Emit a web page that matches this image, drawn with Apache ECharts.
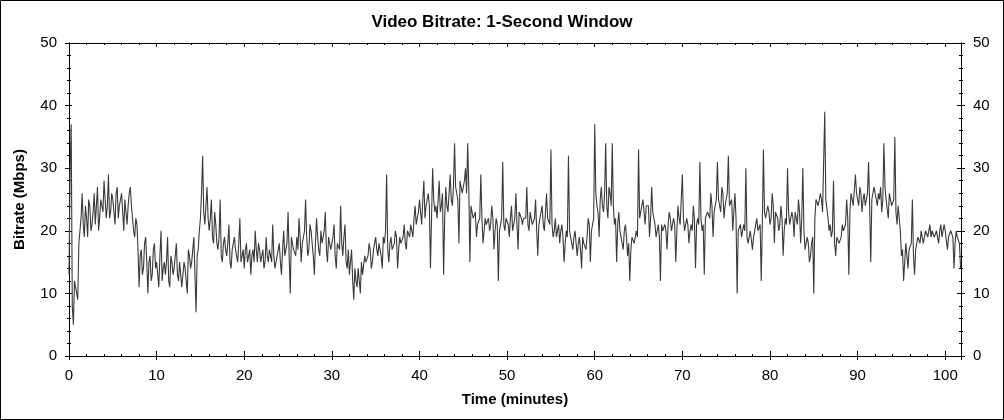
<!DOCTYPE html>
<html>
<head>
<meta charset="utf-8">
<script src="https://cdn.jsdelivr.net/npm/echarts@6/dist/echarts.min.js"></script>
<style>
html,body{margin:0;padding:0;background:#fff;}
#chart{width:1004px;height:420px;}
</style>
</head>
<body>
<div id="chart"></div>
<script>
// ---- data ----
const titleText = 'Video Bitrate: 1-Second Window';
const xName = 'Time (minutes)';
const yName = 'Bitrate (Mbps)';
const xTicks = [0, 10, 20, 30, 40, 50, 60, 70, 80, 90, 100];
const yTicks = [0, 10, 20, 30, 40, 50];
const sampleStepMin = 0.25;   // readings every 15 s (plus in-between readings below)
// bitrate in Mbps at minute m + 0, .25, .5, .75 ; minute 0 .. 101
const bitrate = [
 13,37,5,11,   9,20,26,19,   22,25,20,23,  21,27,22,24,  28,22,29,23,
 25,21,27,24,  26,20,25,24,  27,22,19,21,  11,17,14,19,  10,16,13,18,
 15,11,20,14,  13,19,11,15,  14,18,12,15,  11,14,10,16,  15,19,7,17,
 22,32,21,27,  20,25,18,21,  17,25,15,19,  16,21,14,18,  17,15,22,16,
 14,18,16,13,  17,20,15,17,  16,14,19,15,  17,21,14,16,  18,13,20,16,
 23,10,18,17,  19,22,15,18,  25,16,21,18,  13,22,17,20,  18,23,15,19,
 17,21,14,18,  24,16,21,14,  13,17,9,12,   14,10,13,16,  15,18,14,17,
 19,16,18,14,  18,29,15,19,  17,20,14,19,  18,21,17,20,  21,19,24,22,
 25,21,28,24,  26,14,30,23,  22,28,24,13,  27,23,29,24,  34,26,18,27,
 26,30,34,15,  24,22,19,21,  29,18,22,21,  20,24,17,22,  12,21,31,20,
 22,19,24,21,  26,17,23,21,  22,27,20,23,  21,25,16,22,  24,20,26,22,
 33,19,22,20,  18,21,15,20,  32,19,17,20,  16,19,14,18,  17,22,15,20,
 37,24,19,27,  23,34,22,26,  34,21,15,23,  19,17,21,16,  12,19,18,20,
 33,23,25,21,  24,19,27,23,  19,21,12,20,  21,17,23,20,  22,15,24,21,
 29,20,22,18,  21,24,14,22,  31,20,13,22,  23,26,19,24,  31,24,27,22,
 25,32,24,20,  26,10,20,19,  21,30,18,20,  17,19,22,20,  12,33,22,24,
 21,26,18,23,  20,24,16,22,  30,21,23,19,  22,25,18,30,  17,19,15,18,
 10,25,24,26,  23,39,25,20,  19,28,16,19,  18,21,20,25,  13,26,24,29,
 25,27,23,26,  24,31,15,26,  27,24,25,23,  34,25,22,26,  24,35,21,22,
 16,12,18,14,  17,25,13,18,  19,20,18,20,  19,21,20,19,  20,18,21,19,
 20,17,19,20,  14,20,19,14
];
// in-between readings at minute m + .125, .375, .625, .875 ; minute 0 .. 101
const bitrateMid = [
 30,8,12,10,   18,22,21,24,  19,24,21,26,  24,20,25,23,  25,24,22,26,
 23,26,22,25,  23,25,21,26,  24,20,22,17,  16,13,18,15,  15,12,17,14,
 13,16,12,15,  15,12,16,13,  16,13,15,11,  15,12,17,14,  17,13,16,20,
 26,23,24,22,  22,19,23,18,  19,16,18,17,  18,15,17,19,  16,18,15,17,
 17,15,17,16,  15,17,18,15,  17,15,16,17,  15,16,14,17,  15,17,16,18,
 16,19,17,16,  17,19,18,20,  19,17,20,16,  18,19,16,18,  20,17,19,17,
 19,16,18,17,  18,19,15,17,  15,12,14,11,  12,15,13,15,  16,17,15,18,
 17,18,16,19,  20,17,18,17,  18,19,17,18,  19,18,20,19,  20,22,21,23,
 23,25,22,25,  24,22,25,24,  25,23,26,22,  24,26,25,27,  27,25,28,26,
 28,26,27,24,  22,23,21,22,  22,20,21,22,  21,22,20,21,  20,22,21,22,
 21,22,20,22,  21,23,22,22,  22,21,23,21,  22,20,21,23,  21,23,22,21,
 21,20,19,21,  20,19,18,19,  20,18,19,18,  18,17,19,18,  19,21,20,22,
 26,23,25,24,  26,24,27,24,  24,22,21,20,  18,20,19,18,  17,19,18,19,
 22,24,23,24,  24,22,23,21,  20,19,21,20,  20,21,22,21,  21,20,22,21,
 22,20,21,20,  20,22,21,21,  22,21,22,23,  22,24,23,25,  25,23,26,24,
 26,24,25,23,  22,20,21,19,  20,19,18,20,  19,21,20,21,  21,23,22,23,
 22,24,23,22,  21,22,20,21,  23,21,22,23,  21,23,22,20,  17,18,16,19,
 22,25,24,25,  23,25,22,21,  20,18,19,18,  19,20,21,22,  23,25,24,26,
 24,26,25,24,  26,24,25,27,  25,26,27,25,  27,25,26,24,  25,23,24,20,
 17,15,16,17,  18,16,17,19,  18,20,19,20,  20,19,20,19,  19,20,19,21,
 20,19,20,19,  18,19,18
];
const xMax = 101.8;

// ---- build series points (merge the two reading sets in time order) ----
const points = [];
bitrate.forEach((v, i) => {
  points.push([i * sampleStepMin, v]);
  if (i < bitrateMid.length) points.push([i * sampleStepMin + sampleStepMin / 2, bitrateMid[i]]);
});

const FONT = 'Liberation Sans, Arial, sans-serif';
const tickLabel = {fontFamily: FONT, fontSize: 15, color: '#000'};

function xAx(extra) {
  return Object.assign({
    type: 'value', min: 0, max: xMax, interval: 10,
    axisLine: {show: true, onZero: false, lineStyle: {color: '#000', width: 1}},
    axisTick: {show: true, length: 4, lineStyle: {color: '#000'}},
    minorTick: {show: true, splitNumber: 5, length: 2, lineStyle: {color: '#000'}},
    splitLine: {show: false}, minorSplitLine: {show: false},
    axisLabel: {show: false}
  }, extra);
}
function yAx(extra) {
  return Object.assign({
    type: 'value', min: 0, max: 50, interval: 10,
    axisLine: {show: true, onZero: false, lineStyle: {color: '#000', width: 1}},
    axisTick: {show: true, length: 4, lineStyle: {color: '#000'}},
    minorTick: {show: true, splitNumber: 5, length: 3, lineStyle: {color: '#000'}},
    splitLine: {show: false}, minorSplitLine: {show: false},
    axisLabel: {show: false}
  }, extra);
}

const chart = echarts.init(document.getElementById('chart'), null, {renderer: 'canvas'});
chart.setOption({
  animation: false,
  backgroundColor: '#fff',
  title: {
    text: titleText, left: 'center', top: 9,
    textStyle: {fontFamily: FONT, fontSize: 17, fontWeight: 'bold', color: '#000'}
  },
  grid: {left: 69, right: 43, top: 43, bottom: 64, containLabel: false},
  xAxis: [
    xAx({position: 'bottom', axisTick: {show: true, inside: false, length: 4, lineStyle: {color: '#000'}},
         minorTick: {show: false},
         axisLabel: Object.assign({show: true, margin: 12, customValues: xTicks}, tickLabel),
         name: xName, nameLocation: 'middle', nameGap: 36,
         nameTextStyle: {fontFamily: FONT, fontSize: 15, fontWeight: 'bold', color: '#000'}}),
    xAx({position: 'bottom', axisTick: {show: true, inside: true, length: 5, lineStyle: {color: '#000'}},
         minorTick: {show: true, splitNumber: 5, length: 2, lineStyle: {color: '#000'}}}),
    xAx({position: 'top', axisTick: {show: true, inside: true, length: 4, lineStyle: {color: '#000'}},
         minorTick: {show: true, splitNumber: 5, length: 2, lineStyle: {color: '#000'}}})
  ],
  yAxis: [
    yAx({position: 'left', axisTick: {show: true, inside: false, length: 4, lineStyle: {color: '#000'}},
         minorTick: {show: true, splitNumber: 5, length: 2, lineStyle: {color: '#000'}},
         axisLabel: Object.assign({show: true, margin: 12, customValues: yTicks}, tickLabel),
         name: yName, nameLocation: 'middle', nameGap: 42,
         nameTextStyle: {fontFamily: FONT, fontSize: 15, fontWeight: 'bold', color: '#000'}}),
    yAx({position: 'left', axisTick: {show: true, inside: true, length: 3, lineStyle: {color: '#000'}},
         minorTick: {show: true, splitNumber: 5, length: 2, lineStyle: {color: '#000'}}}),
    yAx({position: 'right', axisTick: {show: true, inside: false, length: 4, lineStyle: {color: '#000'}},
         minorTick: {show: true, splitNumber: 5, length: 2, lineStyle: {color: '#000'}},
         axisLabel: Object.assign({show: true, margin: 12, customValues: yTicks}, tickLabel)}),
    yAx({position: 'right', axisTick: {show: true, inside: true, length: 4, lineStyle: {color: '#000'}},
         minorTick: {show: true, splitNumber: 5, length: 2, lineStyle: {color: '#000'}}})
  ],
  graphic: [{
    type: 'rect', silent: true, z: 100,
    shape: {x: 0.5, y: 0.5, width: 1003, height: 419},
    style: {fill: 'none', stroke: '#000', lineWidth: 1}
  }],
  series: [{
    name: 'Video bitrate', type: 'line', xAxisIndex: 0, yAxisIndex: 0,
    data: points, showSymbol: false, symbol: 'none',
    lineStyle: {color: '#3a3a3a', width: 1.1},
    clip: true
  }]
});
</script>
</body>
</html>
